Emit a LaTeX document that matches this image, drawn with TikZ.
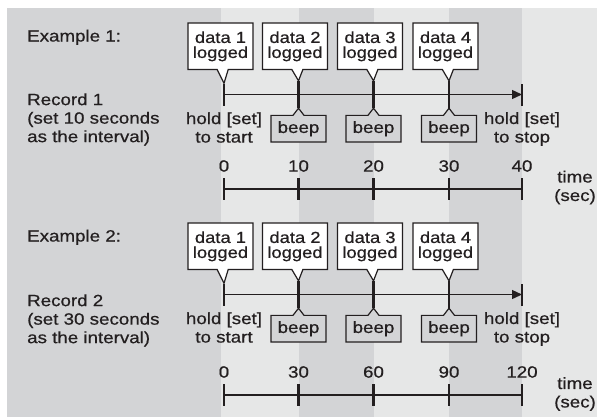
\documentclass[tikz,border=0pt]{standalone}
\usepackage{fontspec}
\setmainfont[FakeStretch=1.15, FakeBold=0.6]{Liberation Sans}
\usetikzlibrary{shapes.callouts, arrows.meta}
\definecolor{bgdark}{RGB}{211,212,214}
\definecolor{bglight}{RGB}{230,231,231}
\definecolor{ink}{RGB}{35,31,32}
\begin{document}
\begin{tikzpicture}[
    x=1bp, y=-1bp,
    font=\fontsize{16.3bp}{18.5bp}\selectfont, text=ink,
    databox/.style={rectangle callout, draw=ink, fill=white, line width=1.2bp, minimum width=65bp, minimum height=46.5bp, inner sep=0pt, align=center, callout pointer width=11bp, font=\fontsize{16bp}{15bp}\selectfont},
    beepbox/.style={rectangle callout, draw=ink, fill=bgdark, line width=1.2bp, minimum width=55bp, minimum height=26.7bp, inner sep=0pt, callout pointer width=11bp},
    tickmark/.style={fill=ink, inner sep=0pt, minimum width=2.8bp, minimum height=22bp},
    longtick/.style={tickmark, minimum height=27bp},
    note/.style={inner sep=0pt, align=center},
    timeline/.style={draw=ink, line width=1.3bp, -{Triangle[length=10bp, width=9bp]}},
    axis/.style={draw=ink, line width=1.3bp}
]
    % background bands
    \useasboundingbox (0, 0) rectangle (597, 417);
    \fill[bglight] (7, 8) rectangle (597, 417);
    \fill[bgdark] (7, 8) rectangle (221, 417);
    \fill[bgdark] (299, 8) rectangle (373.5, 417);
    \fill[bgdark] (449, 8) rectangle (522, 417);

    % Example 1: labels
    \node[note, anchor=base west] (ex1) at (27, 41.5) {Example 1:};
    \node[note, anchor=west, align=left] (rec1) at (27, 119.4) {Record 1\\(set 10 seconds\\as the interval)};

    % Example 1: record line
    \node[tickmark] (r1t0) at (224, 94.5) {};
    \node[longtick] (r1t1) at (298.5, 94.5) {};
    \node[longtick] (r1t2) at (373.5, 94.5) {};
    \node[longtick] (r1t3) at (449, 94.5) {};
    \node[tickmark] (r1t4) at (522, 94.5) {};
    \draw[timeline] (r1t0.center) -- (r1t4.center);

    % Example 1: logged data
    \node[databox, callout absolute pointer={(r1t0.north)}] (r1d1) at (220.5, 46.3) {data 1\\logged};
    \node[databox, callout absolute pointer={(r1t1.north)}] (r1d2) at (295, 46.3) {data 2\\logged};
    \node[databox, callout absolute pointer={(r1t2.north)}] (r1d3) at (370, 46.3) {data 3\\logged};
    \node[databox, callout absolute pointer={(r1t3.north)}] (r1d4) at (445.5, 46.3) {data 4\\logged};

    % Example 1: beeps
    \node[beepbox, callout absolute pointer={(r1t1.south)}] (r1b1) at (298.5, 128.7) {beep};
    \node[beepbox, callout absolute pointer={(r1t2.south)}] (r1b2) at (373.5, 128.7) {beep};
    \node[beepbox, callout absolute pointer={(r1t3.south)}] (r1b3) at (449, 128.7) {beep};
    \node[note] (r1start) at (224, 127.5) {hold [set]\\to start};
    \node[note] (r1stop) at (522, 129) {hold [set]\\to stop};

    % Example 1: time axis
    \node[note] (r1n0) at (224, 166) {0};
    \node[note] (r1n1) at (298.5, 166) {10};
    \node[note] (r1n2) at (373.5, 166) {20};
    \node[note] (r1n3) at (449, 166) {30};
    \node[note] (r1n4) at (522, 166) {40};
    \node[tickmark] (r1a0) at (224, 189) {};
    \node[tickmark] (r1a1) at (298.5, 189) {};
    \node[tickmark] (r1a2) at (373.5, 189) {};
    \node[tickmark] (r1a3) at (449, 189) {};
    \node[tickmark] (r1a4) at (522, 189) {};
    \draw[axis] (r1a0.center) -- (r1a4.center);
    \node[note] (r1time) at (575, 187.5) {time\\(sec)};

    % Example 2: labels
    \node[note, anchor=base west] (ex2) at (27, 241.5) {Example 2:};
    \node[note, anchor=west, align=left] (rec2) at (27, 320.4) {Record 2\\(set 30 seconds\\as the interval)};

    % Example 2: record line
    \node[tickmark] (r2t0) at (224, 294.5) {};
    \node[longtick] (r2t1) at (298.5, 294.5) {};
    \node[longtick] (r2t2) at (373.5, 294.5) {};
    \node[longtick] (r2t3) at (449, 294.5) {};
    \node[tickmark] (r2t4) at (522, 294.5) {};
    \draw[timeline] (r2t0.center) -- (r2t4.center);

    % Example 2: logged data
    \node[databox, callout absolute pointer={(r2t0.north)}] (r2d1) at (220.5, 246.3) {data 1\\logged};
    \node[databox, callout absolute pointer={(r2t1.north)}] (r2d2) at (295, 246.3) {data 2\\logged};
    \node[databox, callout absolute pointer={(r2t2.north)}] (r2d3) at (370, 246.3) {data 3\\logged};
    \node[databox, callout absolute pointer={(r2t3.north)}] (r2d4) at (445.5, 246.3) {data 4\\logged};

    % Example 2: beeps
    \node[beepbox, callout absolute pointer={(r2t1.south)}] (r2b1) at (298.5, 328.7) {beep};
    \node[beepbox, callout absolute pointer={(r2t2.south)}] (r2b2) at (373.5, 328.7) {beep};
    \node[beepbox, callout absolute pointer={(r2t3.south)}] (r2b3) at (449, 328.7) {beep};
    \node[note] (r2start) at (224, 327.5) {hold [set]\\to start};
    \node[note] (r2stop) at (522, 329) {hold [set]\\to stop};

    % Example 2: time axis
    \node[note] (r2n0) at (224, 372) {0};
    \node[note] (r2n1) at (298.5, 372) {30};
    \node[note] (r2n2) at (373.5, 372) {60};
    \node[note] (r2n3) at (449, 372) {90};
    \node[note] (r2n4) at (522, 372) {120};
    \node[tickmark] (r2a0) at (224, 395) {};
    \node[tickmark] (r2a1) at (298.5, 395) {};
    \node[tickmark] (r2a2) at (373.5, 395) {};
    \node[tickmark] (r2a3) at (449, 395) {};
    \node[tickmark] (r2a4) at (522, 395) {};
    \draw[axis] (r2a0.center) -- (r2a4.center);
    \node[note] (r2time) at (575, 394) {time\\(sec)};
\end{tikzpicture}
\end{document}
